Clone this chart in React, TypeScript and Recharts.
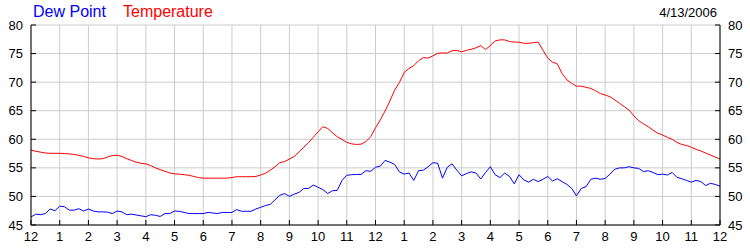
import { LineChart, Line, XAxis, YAxis, CartesianGrid } from "recharts";

// readings every 10 minutes, midnight to midnight
const temperature = [
  58.1, 57.9, 57.75, 57.6, 57.55, 57.55,
  57.55, 57.5, 57.45, 57.35, 57.2, 57.0,
  56.75, 56.6, 56.55, 56.6, 56.9, 57.15,
  57.2, 57.0, 56.6, 56.3, 56.0, 55.8,
  55.7, 55.4, 55.0, 54.7, 54.4, 54.1,
  53.95, 53.9, 53.8, 53.7, 53.5, 53.3,
  53.2, 53.2, 53.2, 53.2, 53.2, 53.2,
  53.3, 53.45, 53.45, 53.45, 53.45, 53.5,
  53.75, 54.05, 54.6, 55.2, 55.9, 56.1,
  56.55, 56.95, 57.8, 58.6, 59.4, 60.35,
  61.3, 62.2, 61.9, 61.15, 60.45, 60.0,
  59.45, 59.2, 59.1, 59.15, 59.6, 60.45,
  62.0, 63.4, 64.95, 66.7, 68.6, 69.95,
  71.7, 72.4, 72.9, 73.75, 74.3, 74.2,
  74.6, 75.05, 75.1, 75.1, 75.5, 75.55,
  75.3, 75.55, 75.75, 76.0, 76.4, 75.7,
  76.4, 77.2, 77.4, 77.4, 77.1, 77.0,
  77.0, 76.8, 76.8, 76.9, 77.0, 75.6,
  74.2, 73.5, 73.2, 71.5, 70.4, 69.8,
  69.3, 69.3, 69.1, 68.9, 68.5, 68.0,
  67.75, 67.45, 66.9, 66.3, 65.7, 65.1,
  64.1, 63.25, 62.7, 62.2, 61.6, 61.05,
  60.75, 60.35, 60.0, 59.45, 59.1, 58.9,
  58.6, 58.25, 57.95, 57.6, 57.25, 56.9,
  56.55,
];

const dewPoint = [
  46.4, 46.9, 46.8, 47.0, 47.8, 47.5,
  48.3, 48.2, 47.6, 47.6, 47.85, 47.45,
  47.8, 47.45, 47.3, 47.3, 47.25, 47.0,
  47.45, 47.3, 46.8, 46.9, 46.75, 46.6,
  46.45, 46.8, 46.7, 46.5, 47.0, 47.0,
  47.45, 47.4, 47.2, 47.0, 47.0, 47.0,
  47.0, 47.2, 47.1, 47.0, 47.2, 47.2,
  47.2, 47.7, 47.4, 47.4, 47.4, 47.8,
  48.1, 48.4, 48.6, 49.4, 50.2, 50.5,
  50.0, 50.4, 50.7, 51.4, 51.4, 52.0,
  51.6, 51.2, 50.5, 51.0, 51.05, 52.8,
  53.7, 53.8, 53.85, 53.85, 54.5, 54.4,
  55.1, 55.3, 56.3, 56.0, 55.6, 54.3,
  53.9, 54.1, 52.8, 54.5, 54.6, 55.2,
  55.9, 55.8, 53.2, 55.1, 55.7, 54.6,
  53.6, 54.0, 54.3, 54.1, 53.05, 54.2,
  55.2, 53.8, 53.3, 54.1, 53.5, 52.2,
  53.8, 52.9, 52.5, 53.0, 52.6, 53.0,
  53.5, 52.7, 53.1, 52.6, 52.1, 51.4,
  50.1, 51.4, 51.7, 53.0, 53.2, 53.0,
  53.15, 53.9, 54.75, 55.0, 55.0, 55.2,
  55.0, 54.9, 54.35, 54.5, 54.2, 53.8,
  53.9, 53.75, 54.2, 53.35, 53.1, 52.8,
  52.5, 52.8, 52.6, 51.9, 52.3, 52.1,
  51.8,
];

const hourTicks = [0, 1, 2, 3, 4, 5, 6, 7, 8, 9, 10, 11, 12, 13, 14, 15, 16, 17, 18, 19, 20, 21, 22, 23, 24];
const hourLabels = ["12", "1", "2", "3", "4", "5", "6", "7", "8", "9", "10", "11", "12", "1", "2", "3", "4", "5", "6", "7", "8", "9", "10", "11", "12"];
const tempTicks = [45, 50, 55, 60, 65, 70, 75, 80];
const dateLabel = "4/13/2006";

const data = temperature.map((t, i) => ({ t: i / 6, temp: t, dew: dewPoint[i] }));

const FONT = "Arial, 'Liberation Sans', sans-serif";

function BottomTick({ x, y, payload }: any) {
  return (
    <g>
      <line x1={x} y1={y} x2={x} y2={y - 5} stroke="#000" />
      <text x={x} y={y + 16} textAnchor="middle" fontSize={13} fontFamily={FONT} fill="#000">
        {hourLabels[payload.index ?? hourTicks.indexOf(payload.value)]}
      </text>
    </g>
  );
}

function TopTick({ x, y }: any) {
  return <line x1={x} y1={y} x2={x} y2={y + 5} stroke="#000" />;
}

function LeftTick({ x, y, payload }: any) {
  return (
    <g>
      <line x1={x} y1={y} x2={x + 5} y2={y} stroke="#000" />
      <text x={x - 8} y={y} dy="0.35em" textAnchor="end" fontSize={13} fontFamily={FONT} fill="#000">
        {payload.value}
      </text>
    </g>
  );
}

function RightTick({ x, y, payload }: any) {
  return (
    <g>
      <line x1={x} y1={y} x2={x - 5} y2={y} stroke="#000" />
      <text x={x + 8} y={y} dy="0.35em" textAnchor="start" fontSize={13} fontFamily={FONT} fill="#000">
        {payload.value}
      </text>
    </g>
  );
}

export default function App() {
  return (
    <div style={{ position: "absolute", top: 0, left: 0, width: 750, height: 250, background: "#fff" }}>
      <LineChart width={750} height={250} data={data} margin={{ top: 25, right: 0, bottom: 0, left: 0 }}>
        <CartesianGrid xAxisId="bottom" yAxisId="left" stroke="#cccccc" />
        <XAxis
          xAxisId="bottom"
          dataKey="t"
          type="number"
          domain={[0, 24]}
          ticks={hourTicks}
          interval={0}
          height={25}
          tickSize={0}
          tickMargin={0}
          axisLine={{ stroke: "#000" }}
          tickLine={false}
          tick={<BottomTick />}
        />
        <XAxis
          xAxisId="top"
          orientation="top"
          dataKey="t"
          type="number"
          domain={[0, 24]}
          ticks={hourTicks}
          interval={0}
          height={0}
          tickSize={0}
          tickMargin={0}
          axisLine={{ stroke: "#000" }}
          tickLine={false}
          tick={<TopTick />}
        />
        <YAxis
          yAxisId="left"
          type="number"
          domain={[45, 80]}
          ticks={tempTicks}
          interval={0}
          width={31}
          tickSize={0}
          tickMargin={0}
          axisLine={{ stroke: "#000" }}
          tickLine={false}
          tick={<LeftTick />}
        />
        <YAxis
          yAxisId="right"
          orientation="right"
          type="number"
          domain={[45, 80]}
          ticks={tempTicks}
          interval={0}
          width={30}
          tickSize={0}
          tickMargin={0}
          axisLine={{ stroke: "#000" }}
          tickLine={false}
          tick={<RightTick />}
        />
        <Line
          xAxisId="bottom"
          yAxisId="left"
          dataKey="dew"
          stroke="#0000ff"
          strokeWidth={1}
          dot={false}
          type="linear"
          isAnimationActive={false}
        />
        <Line
          xAxisId="top"
          yAxisId="right"
          dataKey="temp"
          stroke="#ff0000"
          strokeWidth={1}
          dot={false}
          type="linear"
          isAnimationActive={false}
        />
      </LineChart>
      <svg width={750} height={25} style={{ position: "absolute", top: 0, left: 0 }}>
        <text x={33} y={17} fontSize={16} fontFamily={FONT} fill="#0000ff">Dew Point</text>
        <text x={123} y={17} fontSize={16} fontFamily={FONT} fill="#ff0000">Temperature</text>
        <text x={717} y={17} textAnchor="end" fontSize={13} fontFamily={FONT} fill="#000">{dateLabel}</text>
      </svg>
    </div>
  );
}
